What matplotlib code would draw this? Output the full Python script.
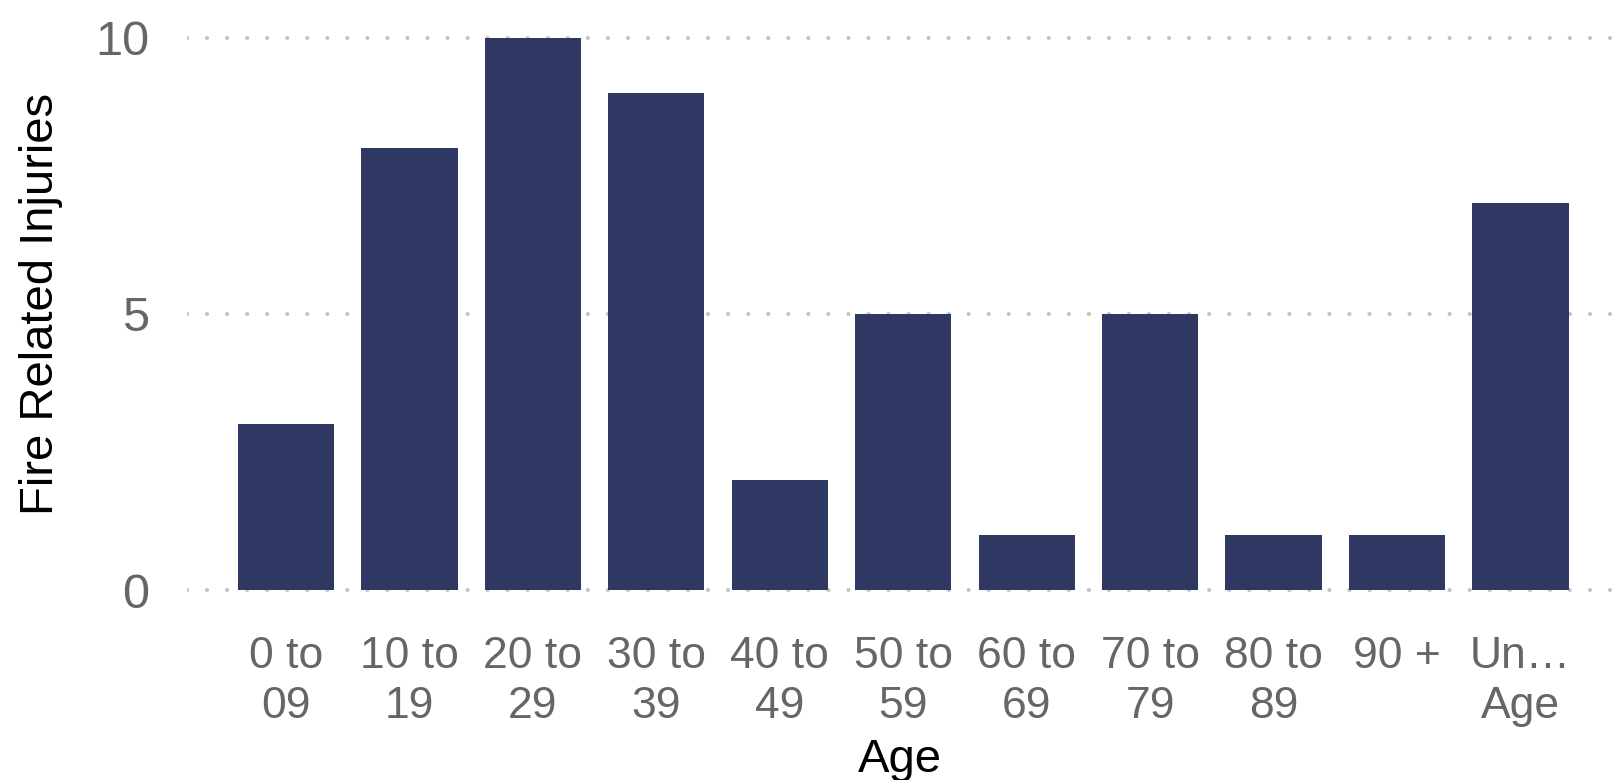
import matplotlib
matplotlib.use("Agg")
import matplotlib.pyplot as plt

categories = ["0 to\n09", "10 to\n19", "20 to\n29", "30 to\n39", "40 to\n49",
              "50 to\n59", "60 to\n69", "70 to\n79", "80 to\n89", "90 +", "Un…\nAge"]
injuries = [3, 8, 10, 9, 2, 5, 1, 5, 1, 1, 7]
y_ticks = [0, 5, 10]

plt.rcParams['font.family'] = ['Liberation Sans', 'DejaVu Sans']

W, H = 1613, 780
fig = plt.figure(figsize=(W / 100, H / 100), dpi=100)
left_px, right_px, top_px, bottom_px = 187, 1613, 32, 598.5
ax = fig.add_axes([left_px / W, 1 - bottom_px / H, (right_px - left_px) / W, (bottom_px - top_px) / H])

x = list(range(len(categories)))
ax.bar(x, injuries, width=0.78, color="#2e3862", zorder=2)

ax.set_xlim(-0.802, 10.75)
ax.set_ylim(-0.15, 10.1)
ax.set_yticks(y_ticks)
ax.set_yticklabels([str(v) for v in y_ticks])
ax.set_xticks(x)
ax.set_xticklabels(categories, linespacing=1.28)

for s in ax.spines.values():
    s.set_visible(False)
ax.tick_params(axis="both", length=0, colors="#666666")
ax.tick_params(axis="y", labelsize=35, pad=27)
ax.tick_params(axis="x", labelsize=32, pad=27)

ax.grid(axis="y", color="#c4c4c4", linewidth=3.0, linestyle=(0, (0.01, 4.8)), zorder=1)
for gl in ax.get_ygridlines():
    gl.set_dash_capstyle("round")
ax.set_axisbelow(True)

ax.set_ylabel("Fire Related Injuries", fontsize=34, color="black")
ax.yaxis.set_label_coords(-0.087, 0.52)
ax.set_xlabel("Age", fontsize=34, color="black", labelpad=8)

fig.savefig("out.png", dpi=100)
